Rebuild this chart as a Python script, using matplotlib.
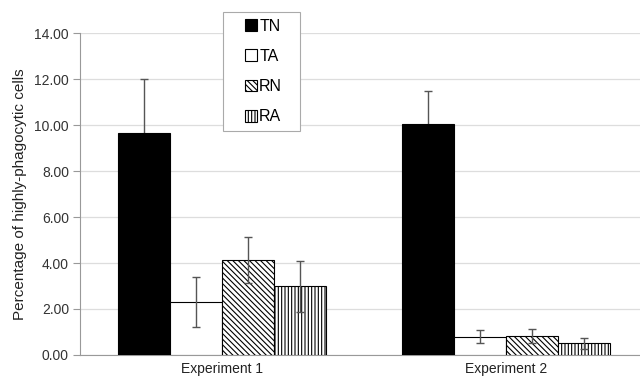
import matplotlib
matplotlib.use("Agg")
import matplotlib.pyplot as plt
from matplotlib.patches import Rectangle
import numpy as np

plt.rcParams['font.family'] = ['Liberation Sans', 'DejaVu Sans']
plt.rcParams['hatch.linewidth'] = 0.8

groups = ["Experiment 1", "Experiment 2"]
series = ["TN", "TA", "RN", "RA"]
values = {
    "TN": [9.65, 10.05],
    "TA": [2.30, 0.80],
    "RN": [4.15, 0.82],
    "RA": [2.98, 0.50],
}
errors = {
    "TN": [2.35, 1.45],
    "TA": [1.10, 0.30],
    "RN": [1.00, 0.30],
    "RA": [1.10, 0.22],
}
yticks = [0, 2, 4, 6, 8, 10, 12, 14]

styles = {
    "TN": dict(facecolor="black", hatch=None),
    "TA": dict(facecolor="white", hatch=None),
    "RN": dict(facecolor="white", hatch="\\\\\\\\\\\\"),
    "RA": dict(facecolor="white", hatch="|||||"),
}

fig = plt.figure(figsize=(6.4, 3.85), dpi=100)
ax = fig.add_axes([0.125, 0.078, 0.875, 0.836])

x = np.arange(len(groups))
w = 0.183
handles = []
for i, s in enumerate(series):
    pos = x + (i - 1.5) * w
    b = ax.bar(pos, values[s], width=w, edgecolor="black", linewidth=0.8,
               label=s, zorder=3, **styles[s])
    ax.errorbar(pos, values[s], yerr=errors[s], fmt="none", ecolor="#555555",
                elinewidth=1.0, capsize=3, capthick=1.0,
                zorder=2 if s == "TN" else 4)
    handles.append(b)

ax.set_xlim(-0.5, 1.47)
ax.set_ylim(0, 14)
ax.set_yticks(yticks)
ax.set_yticklabels([f"{v:.2f}" for v in yticks], fontsize=10, color="#333333")
ax.set_xticks(x)
ax.set_xticklabels(groups, fontsize=10, color="#222222")
ax.tick_params(axis="x", length=0, pad=5)
ax.tick_params(axis="y", length=5, color="#999999", pad=3)
ax.yaxis.grid(True, color="#dddddd", linewidth=0.9, zorder=0)
ax.set_axisbelow(True)
for sp in ["top", "right"]:
    ax.spines[sp].set_visible(False)
ax.spines["left"].set_color("#999999")
ax.spines["bottom"].set_color("#999999")
ax.set_ylabel("Percentage of highly-phagocytic cells", fontsize=11, color="#222222", labelpad=5)

# legend frame
fx0, fy0, fw, fh = 223/640, 1 - 131/385, 77/640, 119/385
frame = Rectangle((fx0, fy0), fw, fh, transform=fig.transFigure,
                  facecolor="white", edgecolor="#aaaaaa", linewidth=0.8, zorder=9)
fig.patches.append(frame)
leg = fig.legend(handles=handles, labels=series, loc="center",
                 bbox_to_anchor=(fx0 + fw/2 + 2/640, fy0 + fh/2),
                 fontsize=11.5, frameon=False,
                 handlelength=0.75, handleheight=0.75,
                 handletextpad=0.15, labelspacing=0.95, borderpad=0.2)
leg.set_zorder(10)

fig.savefig("out.png", dpi=100)
